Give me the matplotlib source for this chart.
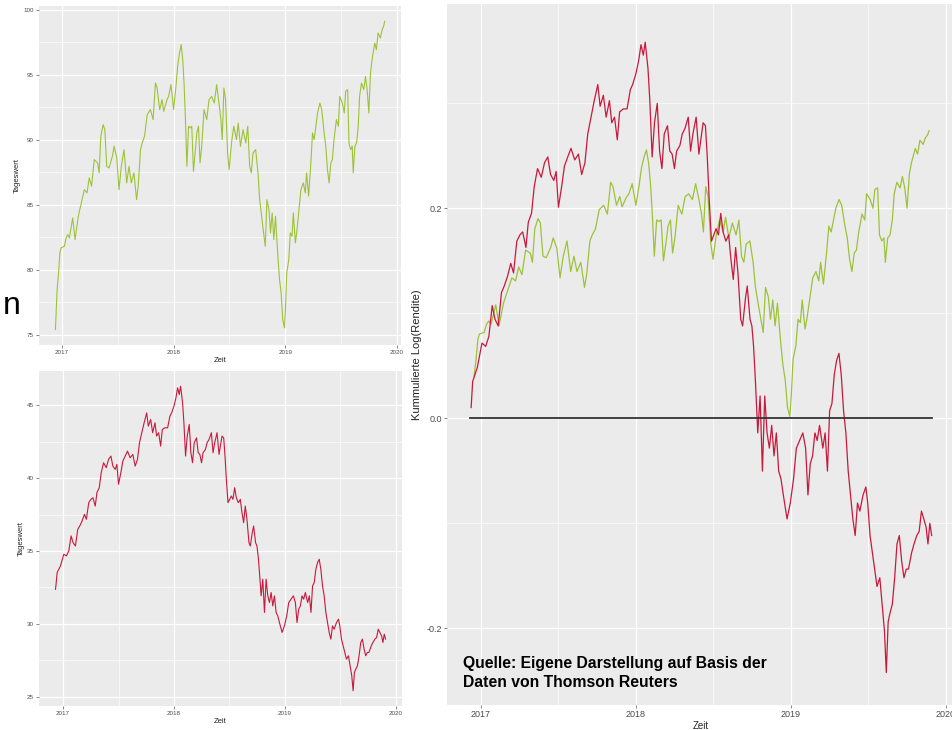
import numpy as np
import matplotlib.pyplot as plt
from matplotlib.ticker import MultipleLocator

plt.rcParams["font.family"] = ["Liberation Sans", "DejaVu Sans"]
plt.rcParams["axes.unicode_minus"] = False

# Tageswerte (Zeit als Dezimaljahr)
ZEIT_GRUEN = [
    2016.94, 2016.955, 2016.967, 2016.98, 2016.99, 2017.02, 2017.036, 2017.05, 2017.065, 2017.095,
    2017.116, 2017.145, 2017.169, 2017.199, 2017.223, 2017.243, 2017.264, 2017.288, 2017.318, 2017.332,
    2017.347, 2017.368, 2017.383, 2017.40, 2017.421, 2017.451, 2017.466, 2017.49, 2017.51, 2017.531,
    2017.555, 2017.579, 2017.60, 2017.62, 2017.644, 2017.668, 2017.682, 2017.703, 2017.718, 2017.739,
    2017.763, 2017.792, 2017.816, 2017.837, 2017.852, 2017.875, 2017.896, 2017.911, 2017.941, 2017.955,
    2017.976, 2018.0, 2018.021, 2018.036, 2018.053, 2018.068, 2018.083, 2018.095, 2018.107, 2018.119,
    2018.134, 2018.148, 2018.163, 2018.178, 2018.193, 2018.208, 2018.223, 2018.237, 2018.252, 2018.273,
    2018.297, 2018.318, 2018.341, 2018.365, 2018.386, 2018.407, 2018.424, 2018.436, 2018.451, 2018.466,
    2018.484, 2018.498, 2018.519, 2018.54, 2018.564, 2018.579, 2018.60, 2018.623, 2018.647, 2018.665,
    2018.682, 2018.697, 2018.712, 2018.736, 2018.757, 2018.772, 2018.789, 2018.807, 2018.822, 2018.837,
    2018.855, 2018.869, 2018.884, 2018.899, 2018.914, 2018.935, 2018.95, 2018.964, 2018.979, 2018.994,
    2019.003, 2019.015, 2019.033, 2019.047, 2019.062, 2019.074, 2019.092, 2019.104, 2019.122, 2019.142,
    2019.163, 2019.181, 2019.193, 2019.211, 2019.231, 2019.246, 2019.261, 2019.276, 2019.291, 2019.312,
    2019.329, 2019.35, 2019.365, 2019.38, 2019.395, 2019.41, 2019.424, 2019.439, 2019.46, 2019.478,
    2019.49, 2019.513, 2019.531, 2019.543, 2019.561, 2019.573, 2019.588, 2019.602, 2019.611, 2019.626,
    2019.641, 2019.656, 2019.668, 2019.685, 2019.706, 2019.721, 2019.736, 2019.751, 2019.766, 2019.78,
    2019.804, 2019.819, 2019.834, 2019.855, 2019.87, 2019.884, 2019.893,
]
KURS_GRUEN = [
    75.38, 78.46, 79.62, 81.28, 81.67, 81.79, 82.44, 82.69, 82.44, 83.97,
    82.31, 84.10, 85.0, 86.15, 85.90, 87.05, 86.41, 88.46, 88.21, 87.44,
    90.26, 91.15, 90.77, 87.95, 87.82, 88.72, 89.49, 88.59, 86.15, 87.95,
    89.23, 86.67, 87.95, 86.67, 87.44, 85.38, 86.41, 89.23, 89.74, 90.26,
    91.92, 92.31, 91.54, 94.36, 93.97, 92.31, 93.08, 92.18, 93.08, 93.33,
    94.23, 92.31, 94.10, 95.64, 96.67, 97.31, 96.03, 94.10, 91.28, 87.95,
    91.03, 90.90, 91.03, 87.56, 88.97, 90.51, 91.03, 88.21, 89.49, 92.31,
    91.54, 93.08, 93.33, 92.82, 94.23, 92.82, 91.54, 90.0, 93.97, 93.08,
    88.97, 87.69, 89.74, 91.03, 90.0, 91.28, 89.49, 90.77, 89.74, 91.03,
    87.95, 87.44, 88.97, 89.23, 87.44, 85.38, 84.10, 82.82, 81.79, 85.38,
    84.62, 82.82, 84.36, 82.31, 84.10, 81.03, 79.23, 78.21, 76.15, 75.51,
    76.92, 79.74, 80.77, 82.82, 82.56, 84.36, 82.05, 82.82, 84.36, 86.15,
    86.67, 85.90, 87.44, 85.64, 88.21, 90.51, 90.0, 91.03, 92.05, 92.82,
    92.31, 90.51, 89.49, 87.69, 86.67, 88.21, 88.46, 90.0, 91.54, 91.03,
    93.33, 92.82, 92.05, 93.72, 93.85, 89.74, 89.23, 89.49, 87.44, 89.49,
    89.74, 91.03, 93.33, 94.36, 93.85, 94.87, 93.85, 92.05, 95.13, 96.15,
    97.44, 96.92, 98.21, 97.82, 98.46, 98.72, 99.10,
]

ZEIT_ROT = [
    2016.931, 2016.936, 2016.946, 2016.961, 2016.976, 2017.006, 2017.03, 2017.051, 2017.072, 2017.09,
    2017.111, 2017.132, 2017.15, 2017.171, 2017.192, 2017.21, 2017.231, 2017.251, 2017.269, 2017.29,
    2017.305, 2017.326, 2017.344, 2017.365, 2017.389, 2017.41, 2017.431, 2017.449, 2017.47, 2017.485,
    2017.50, 2017.521, 2017.539, 2017.56, 2017.581, 2017.605, 2017.629, 2017.65, 2017.671, 2017.689,
    2017.71, 2017.731, 2017.754, 2017.769, 2017.79, 2017.808, 2017.829, 2017.844, 2017.862, 2017.88,
    2017.895, 2017.919, 2017.943, 2017.964, 2017.979, 2018.0, 2018.018, 2018.033, 2018.048, 2018.06,
    2018.078, 2018.09, 2018.105, 2018.12, 2018.138, 2018.153, 2018.168, 2018.183, 2018.204, 2018.219,
    2018.234, 2018.249, 2018.263, 2018.284, 2018.299, 2018.317, 2018.338, 2018.353, 2018.368, 2018.389,
    2018.407, 2018.419, 2018.434, 2018.449, 2018.461, 2018.473, 2018.488, 2018.503, 2018.518, 2018.533,
    2018.548, 2018.563, 2018.581, 2018.599, 2018.614, 2018.629, 2018.644, 2018.659, 2018.677, 2018.689,
    2018.707, 2018.719, 2018.737, 2018.749, 2018.76, 2018.772, 2018.787, 2018.802, 2018.817, 2018.832,
    2018.847, 2018.862, 2018.877, 2018.892, 2018.907, 2018.922, 2018.937, 2018.952, 2018.976, 2018.997,
    2019.018, 2019.036, 2019.057, 2019.078, 2019.096, 2019.111, 2019.126, 2019.141, 2019.156, 2019.171,
    2019.186, 2019.207, 2019.222, 2019.237, 2019.251, 2019.266, 2019.281, 2019.296, 2019.311, 2019.326,
    2019.341, 2019.356, 2019.371, 2019.386, 2019.401, 2019.416, 2019.431, 2019.446, 2019.467, 2019.485,
    2019.497, 2019.512, 2019.527, 2019.542, 2019.557, 2019.575, 2019.59, 2019.605, 2019.617, 2019.629,
    2019.641, 2019.656, 2019.671, 2019.686, 2019.701, 2019.716, 2019.731, 2019.746, 2019.76, 2019.781,
    2019.796, 2019.814, 2019.829, 2019.844, 2019.859, 2019.874, 2019.886, 2019.898, 2019.91,
]
KURS_ROT = [
    32.37, 32.70, 33.52, 33.74, 33.97, 34.77, 34.66, 35.0, 36.03, 35.57,
    35.34, 36.48, 36.71, 37.05, 37.51, 37.17, 38.31, 38.54, 38.65, 38.08,
    39.0, 39.34, 40.37, 41.05, 40.71, 41.28, 41.51, 40.82, 40.59, 40.94,
    39.57, 40.37, 41.16, 41.51, 41.85, 41.39, 41.62, 40.82, 41.28, 42.42,
    43.11, 43.79, 44.47, 43.56, 44.02, 43.11, 43.79, 42.88, 43.11, 42.19,
    43.33, 43.45, 43.45, 44.25, 44.47, 44.93, 45.50, 46.19, 45.73, 46.30,
    45.16, 43.79, 41.51, 42.88, 43.68, 41.74, 41.05, 42.42, 42.76, 41.74,
    41.62, 41.05, 41.74, 41.96, 42.42, 42.65, 43.11, 41.74, 42.42, 43.11,
    41.62, 42.19, 42.88, 42.76, 41.51, 39.91, 38.31, 38.54, 38.77, 38.54,
    39.34, 38.65, 38.31, 38.54, 37.63, 36.94, 38.08, 37.17, 35.57, 35.34,
    36.26, 36.71, 35.57, 35.34, 34.66, 33.52, 31.92, 33.06, 30.78, 33.06,
    31.92, 31.46, 32.15, 31.23, 31.92, 30.78, 30.55, 30.09, 29.41, 29.86,
    30.55, 31.46, 31.69, 31.92, 31.46, 30.09, 31.0, 31.23, 31.92, 31.69,
    32.15, 31.46, 31.92, 30.78, 32.60, 32.83, 33.74, 34.20, 34.43, 33.74,
    32.60, 31.92, 30.78, 30.09, 29.41, 28.95, 29.86, 29.63, 30.09, 30.32,
    29.86, 28.95, 28.49, 28.04, 27.58, 27.81, 27.12, 26.44, 25.41, 26.67,
    26.89, 27.12, 27.81, 28.72, 28.95, 28.26, 27.81, 28.04, 28.04, 28.49,
    28.72, 28.95, 29.06, 29.63, 29.41, 29.18, 28.72, 29.29, 28.95,
]

JAHRE = [2017, 2018, 2019, 2020]

GRUEN = "#9dc23a"
ROT = "#c8193c"
PANEL = "#ebebeb"
TEXTGRAU = "#4d4d4d"


def ggplot_look(ax, y_major, y_minor, tick_size, label_size):
    ax.set_facecolor(PANEL)
    for spine in ax.spines.values():
        spine.set_visible(False)
    ax.set_xticks(JAHRE)
    ax.set_xticklabels([str(j) for j in JAHRE])
    ax.xaxis.set_minor_locator(MultipleLocator(0.5))
    ax.yaxis.set_major_locator(MultipleLocator(y_major))
    ax.yaxis.set_minor_locator(MultipleLocator(y_minor))
    ax.grid(which="major", color="white", linewidth=0.9)
    ax.grid(which="minor", color="white", linewidth=0.45)
    ax.set_axisbelow(True)
    ax.tick_params(which="major", labelcolor=TEXTGRAU, color="#555555",
                   labelsize=tick_size, length=2, width=0.5, pad=1.5)
    ax.tick_params(which="minor", length=0)
    ax.set_xlabel("Zeit", fontsize=label_size, labelpad=1.5, color="#222222")


fig = plt.figure(figsize=(9.53, 7.30), dpi=100)

# oben links: Tageswerte gruen
ax_g = fig.add_axes([0.0409, 0.5274, 0.380, 0.4644])
ax_g.plot(ZEIT_GRUEN, KURS_GRUEN, color=GRUEN, linewidth=0.8)
ggplot_look(ax_g, 5, 2.5, 4.5, 5.5)
ax_g.set_ylabel("Tageswert", fontsize=5.5, labelpad=2, color="#222222")

# unten links: Tageswerte rot
ax_r = fig.add_axes([0.0409, 0.0329, 0.381, 0.4589])
ax_r.plot(ZEIT_ROT, KURS_ROT, color=ROT, linewidth=0.8)
ggplot_look(ax_r, 5, 2.5, 4.5, 5.5)
ax_r.set_ylabel("Tageswert", fontsize=5.5, labelpad=2, color="#222222")

# rechts: kumulierte Log-Renditen beider Reihen
kurs_g = np.array(KURS_GRUEN)
kurs_r = np.array(KURS_ROT)
rendite_g = np.log(kurs_g[1:] / kurs_g[0])
rendite_r = np.log(kurs_r[1:] / kurs_r[0])

ax = fig.add_axes([0.469, 0.0342, 0.533, 0.960])
ax.plot(ZEIT_GRUEN[1:], rendite_g, color=GRUEN, linewidth=0.9)
ax.plot(ZEIT_ROT[1:], rendite_r, color=ROT, linewidth=0.9)
ax.plot([ZEIT_ROT[0], ZEIT_ROT[-1]], [0, 0], color="#333333", linewidth=1.3)
ggplot_look(ax, 0.2, 0.1, 6.5, 7)
ax.set_ylim(-0.273, 0.394)
ax.set_xlim(2016.78, 2020.06)
ax.set_ylabel("Kummulierte Log(Rendite)", fontsize=8, labelpad=3, color="#222222")

fig.text(463 / 953, 1 - 656 / 730, "Quelle: Eigene Darstellung auf Basis der\nDaten von Thomson Reuters",
         ha="left", va="top", fontsize=11.3, fontweight="bold", color="black", linespacing=1.3)

fig.text(3 / 953, 1 - 306 / 730, "n", ha="left", va="center", fontsize=23, color="black")

fig.savefig("out.png", dpi=100)
